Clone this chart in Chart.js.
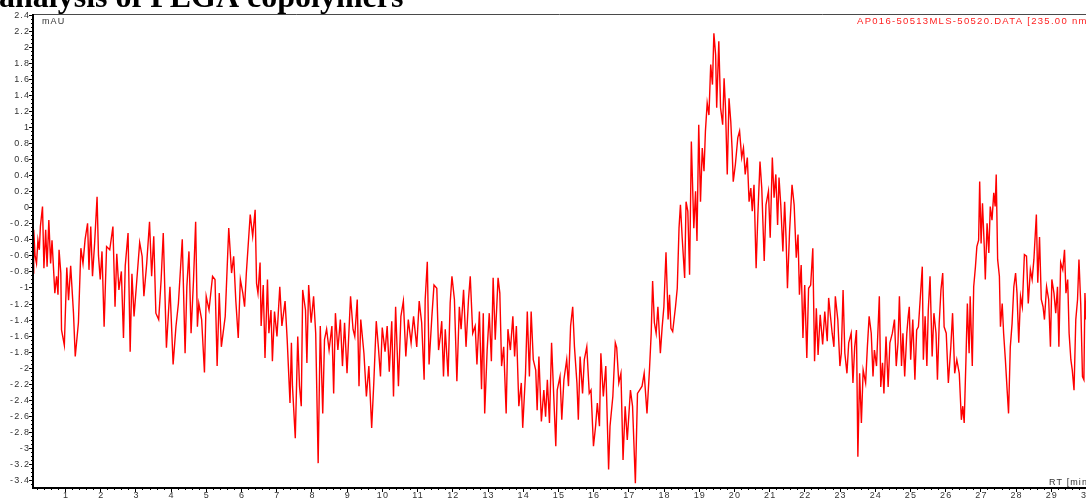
<!DOCTYPE html>
<html><head><meta charset="utf-8">
<script src="https://cdn.jsdelivr.net/npm/chart.js@4/dist/chart.umd.min.js"></script>
<style>html,body{margin:0;padding:0;background:#fff;overflow:hidden}#wrap{position:relative;width:1086px;height:498px}</style>
</head><body><div id="wrap"><canvas id="c"></canvas></div>
<script>
// Retention time (min)
const rt = [
0.09,0.11,0.15,0.19,0.23,0.27,0.30,0.36,0.40,0.45,
0.49,0.54,0.59,0.63,0.67,0.71,0.76,0.80,0.83,0.88,
0.90,0.98,1.05,1.10,1.16,1.24,1.29,1.38,1.45,1.51,
1.57,1.64,1.68,1.73,1.78,1.84,1.91,1.95,2.00,2.05,
2.11,2.18,2.27,2.36,2.42,2.47,2.53,2.60,2.66,2.71,
2.79,2.85,2.90,2.96,3.04,3.12,3.19,3.24,3.32,3.40,
3.46,3.52,3.58,3.66,3.73,3.79,3.88,3.98,4.07,4.15,
4.22,4.33,4.41,4.46,4.52,4.58,4.65,4.71,4.76,4.80,
4.88,4.96,5.01,5.09,5.19,5.26,5.32,5.38,5.44,5.55,
5.65,5.73,5.79,5.85,5.92,5.98,6.05,6.10,6.15,6.26,
6.33,6.40,6.44,6.48,6.54,6.57,6.63,6.68,6.75,6.79,
6.85,6.89,6.95,7.02,7.10,7.16,7.25,7.31,7.39,7.43,
7.46,7.54,7.61,7.66,7.71,7.75,7.83,7.87,7.92,7.99,
8.06,8.12,8.19,8.25,8.32,8.37,8.43,8.50,8.58,8.63,
8.68,8.75,8.82,8.88,8.94,9.01,9.11,9.18,9.23,9.30,
9.35,9.40,9.49,9.56,9.63,9.71,9.77,9.84,9.90,9.96,
10.01,10.09,10.15,10.21,10.28,10.33,10.39,10.47,10.54,10.61,
10.68,10.75,10.83,10.90,10.99,11.06,11.13,11.20,11.23,11.29,
11.34,11.42,11.48,11.56,11.61,11.66,11.70,11.75,11.80,11.88,
11.94,11.99,12.06,12.13,12.20,12.25,12.32,12.39,12.46,12.51,
12.58,12.65,12.70,12.77,12.83,12.88,12.92,12.99,13.05,13.11,
13.16,13.22,13.30,13.35,13.40,13.46,13.53,13.58,13.65,13.72,
13.77,13.82,13.89,13.96,14.00,14.08,14.13,14.19,14.24,14.30,
14.37,14.41,14.46,14.53,14.60,14.65,14.70,14.76,14.82,14.87,
14.94,14.98,15.06,15.11,15.17,15.25,15.30,15.36,15.42,15.47,
15.54,15.58,15.63,15.70,15.75,15.82,15.89,15.94,16.01,16.07,
16.12,16.18,16.22,16.29,16.36,16.44,16.48,16.56,16.63,16.67,
16.73,16.79,16.85,16.91,16.97,17.06,17.12,17.20,17.26,17.32,
17.39,17.45,17.53,17.60,17.65,17.69,17.74,17.79,17.84,17.91,
17.96,18.01,18.07,18.13,18.17,18.21,18.26,18.34,18.39,18.44,
18.48,18.53,18.60,18.64,18.69,18.74,18.79,18.86,18.91,18.95,
19.00,19.05,19.10,19.15,19.19,19.24,19.29,19.34,19.39,19.43,
19.48,19.51,19.57,19.62,19.68,19.72,19.76,19.81,19.86,19.91,
19.95,19.98,20.04,20.11,20.16,20.22,20.27,20.32,20.38,20.43,
20.48,20.52,20.57,20.63,20.68,20.74,20.79,20.86,20.91,20.98,
21.03,21.09,21.14,21.19,21.24,21.28,21.33,21.39,21.44,21.48,
21.52,21.58,21.65,21.71,21.77,21.82,21.86,21.91,21.96,22.01,
22.07,22.12,22.18,22.24,22.29,22.34,22.39,22.45,22.52,22.58,
22.65,22.69,22.79,22.84,22.88,22.95,23.01,23.05,23.10,23.15,
23.21,23.26,23.33,23.38,23.43,23.48,23.52,23.57,23.62,23.67,
23.74,23.79,23.84,23.90,23.95,23.99,24.05,24.13,24.17,24.22,
24.26,24.32,24.38,24.43,24.50,24.56,24.61,24.66,24.70,24.76,
24.80,24.85,24.91,24.95,24.98,25.02,25.08,25.14,25.19,25.24,
25.29,25.35,25.38,25.43,25.48,25.52,25.57,25.63,25.68,25.74,
25.78,25.83,25.88,25.93,25.97,26.03,26.09,26.16,26.21,26.27,
26.33,26.40,26.46,26.50,26.54,26.59,26.63,26.68,26.71,26.77,
26.81,26.86,26.90,26.95,26.98,27.02,27.06,27.11,27.14,27.19,
27.24,27.28,27.33,27.38,27.42,27.45,27.49,27.54,27.57,27.62,
27.66,27.71,27.76,27.80,27.85,27.90,27.95,28.00,28.04,28.09,
28.14,28.19,28.25,28.31,28.36,28.42,28.47,28.52,28.59,28.63,
28.68,28.73,28.78,28.82,28.88,28.94,28.99,29.03,29.09,29.14,
29.19,29.23,29.28,29.34,29.39,29.43,29.48,29.52,29.57,29.61,
29.66,29.71,29.76,29.80,29.85,29.90,29.94,29.97,30.00
];
// Absorbance (mAU) at 235 nm
const mau = [
-0.82,-0.28,-0.61,-0.70,-0.41,-0.53,-0.24,0.01,-0.76,-0.28,
-0.74,-0.16,-0.70,-0.41,-0.74,-1.07,-0.86,-1.09,-0.53,-0.82,
-1.53,-1.72,-0.75,-1.16,-0.73,-1.32,-1.86,-1.44,-0.51,-0.70,
-0.40,-0.20,-0.78,-0.24,-0.86,-0.45,0.13,-0.60,-0.90,-0.55,
-1.49,-0.49,-0.53,-0.24,-1.24,-0.58,-1.03,-0.80,-1.63,-0.73,
-0.32,-1.80,-0.83,-1.36,-0.90,-0.44,-0.61,-1.11,-0.70,-0.18,
-0.86,-0.36,-1.32,-1.40,-0.90,-0.32,-1.75,-0.99,-1.96,-1.49,
-1.20,-0.40,-1.82,-0.99,-0.55,-1.57,-0.90,-0.18,-1.49,-1.20,
-1.40,-2.06,-1.11,-1.28,-0.86,-0.90,-1.98,-1.07,-1.74,-1.36,
-0.26,-0.82,-0.61,-1.16,-1.63,-0.90,-1.07,-1.24,-0.82,-0.09,
-0.36,-0.03,-0.95,-1.07,-0.69,-1.48,-0.97,-1.88,-0.90,-1.57,
-1.28,-1.92,-1.30,-1.61,-0.99,-1.48,-1.17,-1.65,-2.44,-1.69,
-2.23,-2.88,-1.61,-2.23,-2.48,-1.03,-1.28,-1.94,-0.97,-1.44,
-1.11,-1.57,-3.19,-1.48,-2.57,-1.65,-1.52,-1.78,-1.48,-2.32,
-1.32,-1.78,-1.40,-1.98,-1.44,-2.07,-1.11,-1.52,-1.61,-1.15,
-2.23,-1.40,-1.82,-2.36,-1.98,-2.75,-2.19,-1.42,-1.74,-2.11,
-1.50,-1.80,-1.48,-2.05,-1.42,-2.36,-1.24,-2.23,-1.36,-1.17,
-1.86,-1.40,-1.69,-1.36,-1.74,-1.17,-1.44,-2.15,-1.15,-0.68,
-1.96,-1.36,-0.97,-1.01,-1.78,-1.61,-1.42,-2.11,-1.52,-2.11,
-1.19,-0.86,-1.15,-2.17,-1.24,-1.52,-1.03,-1.74,-1.15,-0.86,
-1.57,-1.48,-1.96,-1.30,-2.27,-1.32,-2.57,-1.78,-1.32,-1.92,
-0.88,-1.65,-0.88,-1.07,-1.98,-1.74,-2.57,-1.52,-1.78,-1.36,
-1.86,-1.48,-2.48,-2.19,-2.75,-2.07,-1.30,-2.11,-1.30,-1.90,
-2.03,-2.53,-1.86,-2.67,-2.28,-2.61,-2.15,-2.69,-1.69,-2.23,
-2.98,-2.28,-2.11,-2.65,-2.15,-1.90,-2.23,-1.48,-1.24,-1.74,
-2.19,-2.65,-1.86,-2.32,-1.90,-1.74,-2.32,-2.28,-2.98,-2.73,
-2.44,-2.73,-1.82,-2.36,-1.98,-3.27,-2.73,-2.36,-1.69,-1.75,
-2.19,-2.07,-3.15,-2.48,-2.90,-2.28,-2.48,-3.44,-2.32,-2.28,
-2.23,-2.07,-2.57,-2.03,-1.57,-0.92,-1.44,-1.57,-1.24,-1.82,
-1.50,-1.24,-0.56,-1.40,-1.09,-1.51,-1.55,-1.24,-1.01,-0.26,
0.03,-0.38,-0.88,0.07,-0.05,-0.84,0.82,-0.26,0.20,-0.42,
1.03,0.07,0.74,0.45,0.95,1.30,1.15,1.78,1.53,2.17,
1.90,1.24,2.07,1.24,1.03,1.61,1.24,0.41,1.36,1.07,
0.70,0.32,0.53,0.87,0.95,0.62,0.74,0.41,0.62,0.07,
0.24,-0.05,0.28,-0.76,-0.09,0.57,0.24,-0.67,0.03,0.20,
-0.38,0.62,0.12,0.41,-0.22,0.37,0.03,-0.55,0.07,-0.38,
-1.01,-0.30,0.28,0.03,-0.63,-0.34,-1.09,-0.72,-1.63,-0.97,
-1.88,-1.01,-0.97,-0.51,-1.92,-1.26,-1.84,-1.34,-1.71,-1.30,
-1.67,-1.13,-1.57,-1.74,-1.11,-1.40,-1.98,-1.82,-1.03,-1.82,
-2.07,-1.69,-1.57,-2.19,-1.74,-1.53,-3.11,-2.07,-2.69,-2.03,
-2.19,-1.74,-1.36,-1.57,-2.11,-1.78,-1.98,-1.11,-2.24,-1.94,
-2.32,-1.61,-2.24,-1.69,-1.57,-1.40,-1.98,-1.69,-1.11,-1.98,
-1.57,-2.11,-1.57,-1.36,-1.24,-1.90,-1.40,-2.15,-1.53,-1.49,
-1.15,-0.74,-1.90,-1.36,-1.98,-1.28,-0.86,-1.86,-1.32,-1.57,
-2.15,-1.45,-1.03,-0.82,-1.49,-1.57,-2.19,-1.74,-1.32,-2.07,
-1.90,-2.07,-2.65,-2.48,-2.69,-1.90,-1.20,-1.82,-1.11,-1.98,
-0.99,-0.74,-0.49,-0.41,0.32,-0.45,0.05,-0.49,-0.90,-0.20,
-0.57,0.01,-0.16,0.18,0.01,0.41,-0.65,-0.86,-1.49,-1.20,
-1.57,-1.90,-2.28,-2.57,-1.74,-1.45,-0.99,-0.82,-1.07,-1.69,
-1.11,-1.24,-0.59,-0.61,-1.20,-0.78,-0.90,-0.65,-0.09,-0.94,
-0.37,-1.15,-1.24,-1.40,-0.99,-1.15,-1.74,-0.90,-1.07,-1.32,
-0.99,-1.74,-0.69,-0.78,-0.53,-1.07,-0.90,-1.57,-1.90,-2.03,
-2.28,-1.40,-1.15,-0.65,-1.20,-2.11,-2.15,-1.07,-1.40
];
const xTicks = [1,2,3,4,5,6,7,8,9,10,11,12,13,14,15,16,17,18,19,20,21,22,23,24,25,26,27,28,29,30];
const yTicks = [2.4,2.2,2,1.8,1.6,1.4,1.2,1,0.8,0.6,0.4,0.2,0,-0.2,-0.4,-0.6,-0.8,-1,-1.2,-1.4,-1.6,-1.8,-2,-2.2,-2.4,-2.6,-2.8,-3,-3.2,-3.4];
const titleText = 'analysis of PEGA copolymers';
const traceName = 'AP016-50513MLS-50520.DATA [235.00 nm]';
const yUnit = 'mAU';
const xUnit = 'RT [min]';

const points = rt.map((t, i) => ({x: t, y: mau[i]}));

const axisPlugin = {
  id: 'axisPlugin',
  afterDraw(chart) {
    const {ctx, chartArea: a, scales: {x, y}} = chart;
    ctx.save();
    // top frame line
    ctx.strokeStyle = '#4a4a4a'; ctx.lineWidth = 1;
    ctx.beginPath(); ctx.moveTo(a.left, a.top + 0.5); ctx.lineTo(a.right, a.top + 0.5); ctx.stroke();
    // axis lines
    ctx.strokeStyle = '#000'; ctx.lineWidth = 2;
    ctx.beginPath(); ctx.moveTo(a.left, a.top); ctx.lineTo(a.left, a.bottom); ctx.lineTo(a.right, a.bottom); ctx.stroke();
    ctx.lineWidth = 1;
    // y minor ticks
    ctx.beginPath();
    for (let k = -70; k <= 48; k++) {
      const v = k * 0.05; const py = Math.round(y.getPixelForValue(v)) + 0.5;
      if (py < a.top || py > a.bottom) continue;
      ctx.moveTo(a.left - 2, py); ctx.lineTo(a.left, py);
    }
    // x minor ticks
    for (let k = 1; k <= 150; k++) {
      const v = k * 0.2; const px = Math.round(x.getPixelForValue(v)) + 0.5;
      if (px < a.left || px > a.right) continue;
      ctx.moveTo(px, a.bottom); ctx.lineTo(px, a.bottom + 2);
    }
    ctx.stroke();
    // major ticks
    ctx.beginPath();
    yTicks.forEach(v => { const py = Math.round(y.getPixelForValue(v)) + 0.5; ctx.moveTo(a.left - 4, py); ctx.lineTo(a.left, py); });
    xTicks.forEach(v => { const px = Math.round(x.getPixelForValue(v)) + 0.5; ctx.moveTo(px, a.bottom); ctx.lineTo(px, a.bottom + 4); });
    ctx.stroke();
    // tick labels
    ctx.fillStyle = '#333';
    ctx.font = '9px "Liberation Sans", Arial, sans-serif';
    ctx.letterSpacing = '1.1px';
    ctx.textAlign = 'right'; ctx.textBaseline = 'middle';
    yTicks.forEach(v => { ctx.fillText(String(+v.toFixed(1)), a.left - 3, y.getPixelForValue(v) + 0.5); });
    ctx.textAlign = 'center'; ctx.textBaseline = 'alphabetic';
    xTicks.forEach(v => { ctx.fillText(String(v), x.getPixelForValue(v) + 1, a.bottom + 10); });
    // unit labels
    ctx.textAlign = 'left';
    ctx.fillText(yUnit, a.left + 9, a.top + 9.5);
    ctx.fillText(xUnit, a.right - 37, a.bottom - 3);
    // trace label
    ctx.fillStyle = '#ff2020';
    ctx.font = '9.5px "Liberation Sans", Arial, sans-serif';
    ctx.letterSpacing = '1.3px';
    ctx.fillText(traceName, a.right - 229, a.top + 9.5);
    // title
    ctx.letterSpacing = '0px';
    ctx.fillStyle = '#000';
    ctx.font = 'bold 32px "Liberation Serif", "Times New Roman", serif';
    ctx.textAlign = 'left';
    ctx.fillText(titleText, -1, 7);
    ctx.restore();
  }
};

new Chart(document.getElementById('c'), {
  type: 'line',
  data: { datasets: [{ data: points, borderColor: '#ff0000', borderWidth: 1.4, pointRadius: 0, tension: 0, fill: false }] },
  options: {
    responsive: true, maintainAspectRatio: false, animation: false, devicePixelRatio: 1,
    layout: { padding: { top: 14, left: 0, right: 0, bottom: 0 } },
    plugins: { legend: { display: false }, tooltip: { enabled: false }, title: { display: false } },
    scales: {
      x: { type: 'linear', min: 0.09, max: 30.0,
           grid: { display: false }, border: { display: false }, ticks: { display: false },
           afterFit: s => { s.height = 10; } },
      y: { type: 'linear', min: -3.5, max: 2.41,
           grid: { display: false }, border: { display: false }, ticks: { display: false },
           afterFit: s => { s.width = 33; } }
    }
  },
  plugins: [axisPlugin]
});
</script>
</body></html>
